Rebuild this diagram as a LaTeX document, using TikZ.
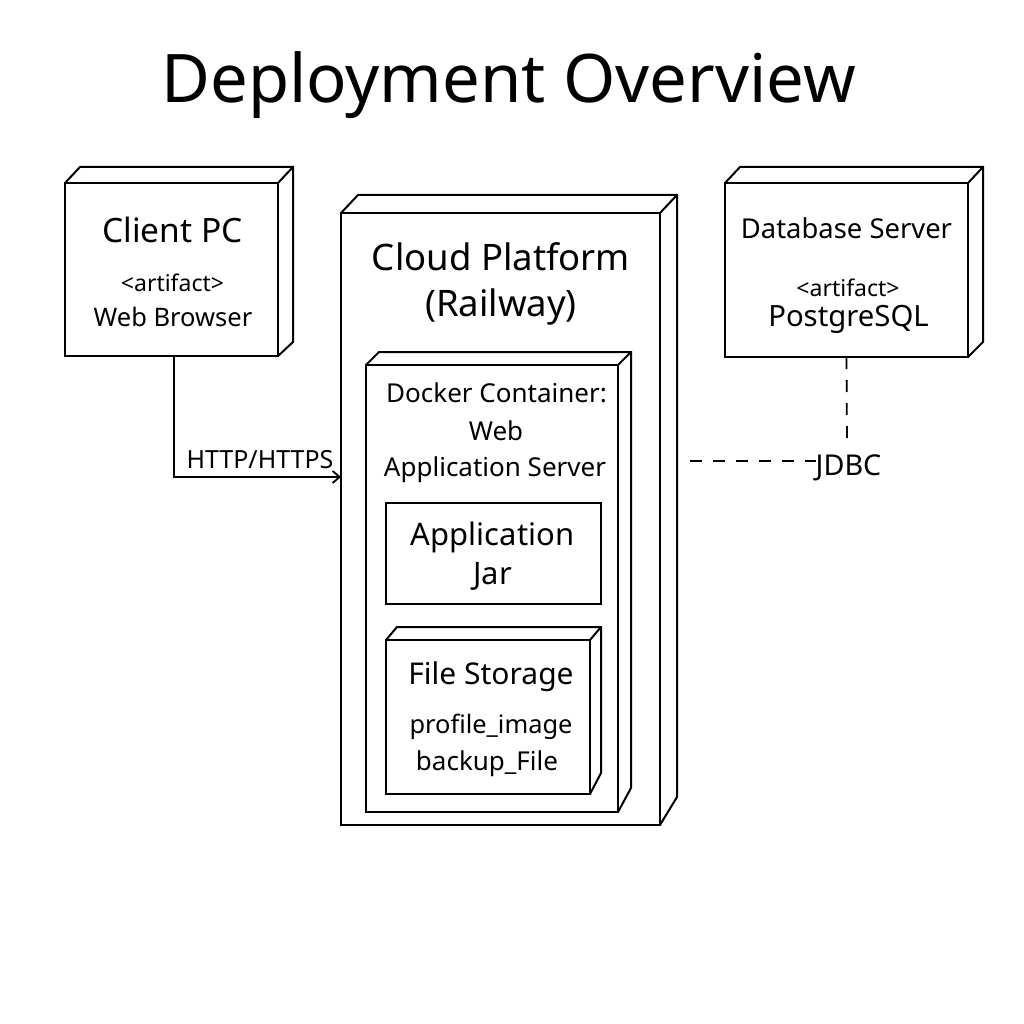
\documentclass[tikz,border=0pt]{standalone}
\usepackage{fontspec}
\setmainfont{Noto Sans}
\usetikzlibrary{arrows.meta}
\newcommand{\fs}[1]{\fontsize{#1}{#1}\selectfont}
% #1 node name, #2 dx, #3 dy top, #4 dy bottom
\newcommand{\cubefaces}[4]{%
  \draw[edge] (#1.north west) -- ([shift={(#2,-#3)}]#1.north west)
    -- ([shift={(#2,-#3)}]#1.north east) -- ([shift={(#2,-#4)}]#1.south east)
    -- (#1.south east) (#1.north east) -- ([shift={(#2,-#3)}]#1.north east);}
\begin{document}
\begin{tikzpicture}[x=1pt,y=-1pt,
  edge/.style={line width=2pt,line join=miter},
  face/.style={draw,line width=2pt,rectangle,inner sep=0pt,outer sep=0pt},
  lbl/.style={anchor=base,inner sep=0pt,text=black},
  conn/.style={line width=1.8pt},
  dashconn/.style={line width=1.8pt,dash pattern=on 12pt off 11pt}]
\useasboundingbox[fill=white] (0,0) rectangle (1024,1024);

\node[lbl] (title) at (508.5,103) {\fs{67}Deployment Overview};

% Client PC
\node[face,minimum width=213pt,minimum height=173pt] (client) at (171.5,269.5) {};
\cubefaces{client}{15}{16}{14}
\node[lbl] (clientname) at (172.5,242) {\fs{33.5}Client PC};
\node[lbl] (clientart) at (172.5,291.5) {\fs{23}<artifact>};
\node[lbl] (clientbrowser) at (173,326.5) {\fs{25.5}Web Browser};

% Cloud Platform
\node[face,minimum width=319pt,minimum height=612pt] (cloud) at (500.5,519) {};
\cubefaces{cloud}{17}{18}{28}
\node[lbl] (cloudname) at (501,270.5) {\fs{36.5}Cloud Platform};
\node[lbl] (cloudrail) at (501,316.5) {\fs{36.5}(Railway)};

% Docker container
\node[face,minimum width=252pt,minimum height=447pt] (docker) at (492,588.5) {};
\cubefaces{docker}{13}{13}{24}
\node[lbl] (dock1) at (496.5,402.5) {\fs{26}Docker Container:};
\node[lbl] (dock2) at (496,440) {\fs{26}Web};
\node[lbl] (dock3) at (495,476.5) {\fs{26}Application Server};

% Application Jar
\node[face,minimum width=215pt,minimum height=101pt] (jar) at (493.5,553.5) {};
\node[lbl] (jar1) at (492.5,545) {\fs{31}Application};
\node[lbl] (jar2) at (492.5,584) {\fs{31}Jar};

% File Storage
\node[face,minimum width=204pt,minimum height=154pt] (files) at (488,717) {};
\cubefaces{files}{11}{13}{21}
\node[lbl] (files1) at (491,684) {\fs{30}File Storage};
\node[lbl] (files2) at (491,733) {\fs{25.4}profile\_image};
\node[lbl] (files3) at (487,770) {\fs{26}backup\_File};

% Database Server
\node[face,minimum width=243pt,minimum height=174pt] (db) at (846.5,270) {};
\cubefaces{db}{15}{16}{15}
\node[lbl] (dbname) at (846.5,239) {\fs{27.4}Database Server};
\node[lbl] (dbart) at (848,296) {\fs{23}<artifact>};
\node[lbl] (dbpg) at (848.5,326.5) {\fs{29.3}PostgreSQL};

% HTTP connector
\coordinate (httpend) at (341,477);
\draw[conn,-{Straight Barb[length=7pt,width=12pt,line width=1.8pt]}] ([xshift=2.5pt]client.south) |- (httpend);
\node[lbl] (httplbl) at (260,468) {\fs{25}HTTP/HTTPS};

% JDBC connector
\node[lbl] (jdbc) at (848.5,475) {\fs{28.7}JDBC};
\coordinate (jdbcleft) at (690,461);
\draw[dashconn] (db.south) -- (847,445);
\draw[dashconn] (jdbcleft) -- (816,461);
\end{tikzpicture}
\end{document}
